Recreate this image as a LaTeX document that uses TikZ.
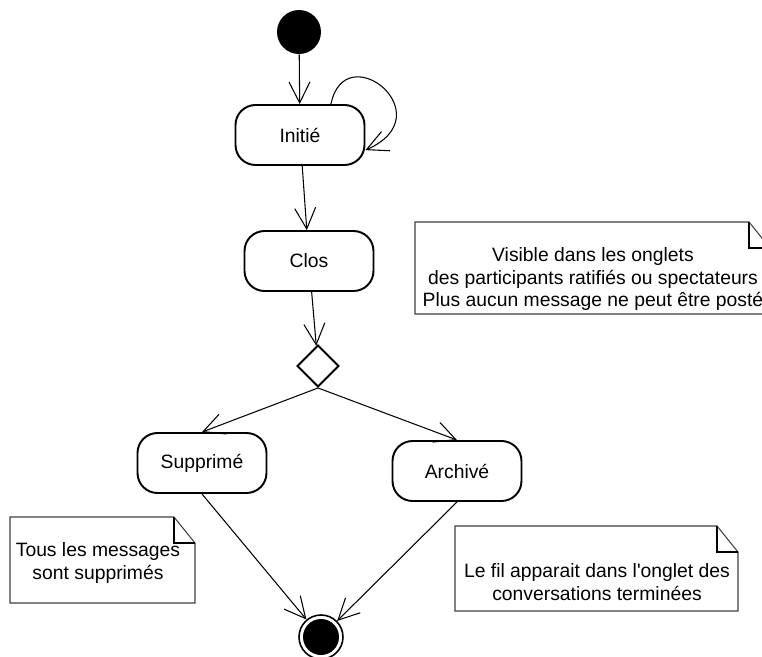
\documentclass[tikz,border=0pt]{standalone}
\usepackage{fontspec}
\setmainfont{Liberation Sans}[Ligatures=TeXOff]
\usetikzlibrary{shapes.geometric, arrows.meta}

\begin{document}
\begin{tikzpicture}[x=0.02cm, y=0.02cm, font=\fontsize{11}{13}\selectfont,
  etat/.style={draw, line width=1.1pt, rounded corners=0.4cm, minimum width=2.58cm, minimum height=1.2cm, inner sep=0pt},
  fleche/.style={-{Straight Barb[length=4.2mm,width=4.2mm]}, line width=0.6pt},
  note/.style={draw=black!75, line width=0.6pt, fill=white},
  pli/.style={line width=1.1pt}]
\useasboundingbox (0,0) rectangle (762,-657);
\clip (0,0) rectangle (762,-657);
\draw[note] (415,-222) -- (749,-222) -- (770,-248) -- (770,-314) -- (415,-314) -- cycle;
\draw[pli] (749,-222) |- (770,-248);
\draw[note] (10,-517) -- (174,-517) -- (195,-543) -- (195,-603) -- (10,-603) -- cycle;
\draw[pli] (174,-517) |- (195,-543);
\draw[note] (455,-526) -- (717,-526) -- (738,-552) -- (738,-611) -- (455,-611) -- cycle;
\draw[pli] (717,-526) |- (738,-552);
\node [align=center] (noteclos) at (593,-279) {Visible dans les onglets\\des participants ratifiés ou spectateurs\\Plus aucun message ne peut être posté};
\node [align=center] (notesupp) at (98,-563) {Tous les messages\\sont supprimés};
\node [align=center] (notearch) at (597,-582) {Le fil apparait dans l'onglet des\\conversations terminées};
\node [circle, fill=black, minimum size=0.88cm, inner sep=0pt] (debut) at (299,-32) {};
\node [etat] (initie) at (300,-135) {Initié};
\node [etat] (clos) at (309,-261) {Clos};
\node [diamond, draw, line width=1.1pt, minimum size=0.84cm, inner sep=0pt] (choix) at (318,-366) {};
\node [etat] (supprime) at (202,-463) {Supprimé};
\node [etat] (archive) at (457,-471) {Archivé};
\node [circle, draw, line width=0.9pt, minimum size=0.88cm, inner sep=0pt] (fin) at (321,-637) {};
\node [circle, fill=black, minimum size=0.72cm, inner sep=0pt] (finplein) at (321,-637) {};
\draw[fleche] (debut) -- (initie);
\draw[fleche] (initie.45) .. controls (345,-35) and (445,-115) .. (initie.-13);
\draw[fleche] (initie) -- (clos);
\draw[fleche] (clos) -- (choix);
\draw[fleche] (choix.south) -- (supprime.north);
\draw[fleche] (choix.south) -- (archive.north);
\draw[fleche] (supprime.south) -- (fin);
\draw[fleche] (archive.south) -- (fin);
\end{tikzpicture}
\end{document}
